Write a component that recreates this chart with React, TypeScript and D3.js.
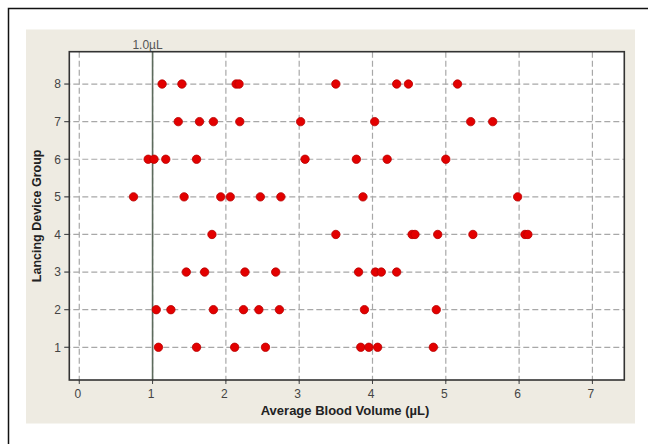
import React from "react";
import * as d3 from "d3";

const groups = [1, 2, 3, 4, 5, 6, 7, 8];
const xTicks = [0, 1, 2, 3, 4, 5, 6, 7];
const g1 = [1.08, 1.6, 2.12, 2.54, 3.84, 3.95, 4.07, 4.83];
const g2 = [1.05, 1.25, 1.83, 2.24, 2.45, 2.73, 3.89, 4.87];
const g3 = [1.46, 1.71, 2.26, 2.68, 3.81, 4.04, 4.12, 4.33];
const g4 = [1.81, 3.5, 4.54, 4.58, 4.89, 5.37, 6.08, 6.12];
const g5 = [0.74, 1.43, 1.93, 2.06, 2.47, 2.75, 3.87, 5.98];
const g6 = [0.94, 1.02, 1.18, 1.6, 3.08, 3.78, 4.2, 5.0];
const g7 = [1.35, 1.64, 1.83, 2.19, 3.02, 4.03, 5.34, 5.64];
const g8 = [1.13, 1.4, 2.14, 2.18, 3.5, 4.33, 4.49, 5.16];
const seriesByGroup = [g1, g2, g3, g4, g5, g6, g7, g8];
const refValue = 1.0;
const refLabel = "1.0\u00b5L";
const xTitle = "Average Blood Volume (\u00b5L)";
const yTitle = "Lancing Device Group";

export default function App() {
  const left = 69.3, right = 624.3, top = 51.7, bottom = 380;
  const x = d3.scaleLinear().domain([-0.136, 7.435]).range([left, right]);
  const y = d3.scaleLinear().domain([0.13, 8.86]).range([bottom, top]);
  const font = "'Liberation Sans', Arial, sans-serif";
  const points = groups.flatMap((g, i) => seriesByGroup[i].map((v) => ({ g, v })));
  return (
    <svg width={648} height={444} style={{ position: "fixed", left: 0, top: 0 }} fontFamily={font}>
      <rect x={0} y={0} width={648} height={444} fill="#fff" />
      <path d="M8.5,444 V8.5 H648" fill="none" stroke="#111" strokeWidth={1.5} />
      <rect x={26} y={29.5} width={609} height={394} fill="#eeebe2" />
      <rect x={left} y={top} width={right - left} height={bottom - top} fill="#fff" />
      {xTicks.map((t) => (
        <line key={"vx" + t} x1={x(t)} x2={x(t)} y1={top} y2={bottom + 4} stroke="#a8a8a8" strokeWidth={1.2} strokeDasharray="6,3" />
      ))}
      {groups.map((g) => (
        <line key={"hy" + g} x1={left - 5} x2={right} y1={y(g)} y2={y(g)} stroke="#a8a8a8" strokeWidth={1.2} strokeDasharray="6,3" />
      ))}
      {xTicks.map((t) => (
        <line key={"tx" + t} x1={x(t)} x2={x(t)} y1={bottom} y2={bottom + 4} stroke="#444" strokeWidth={1} />
      ))}
      {groups.map((g) => (
        <line key={"ty" + g} x1={left - 5} x2={left} y1={y(g)} y2={y(g)} stroke="#444" strokeWidth={1} />
      ))}
      <line x1={x(refValue)} x2={x(refValue)} y1={top} y2={bottom} stroke="#5d6b5d" strokeWidth={1.6} />
      <text x={x(refValue) - 5} y={48.5} fontSize={12} fill="#555" textAnchor="middle">{refLabel}</text>
      {points.map((p, i) => (
        <circle key={i} cx={x(p.v)} cy={y(p.g)} r={4.2} fill="#e30000" stroke="#b80000" strokeWidth={0.8} />
      ))}
      <rect x={left} y={top} width={right - left} height={bottom - top} fill="none" stroke="#333" strokeWidth={1.6} />
      {xTicks.map((t) => (
        <text key={"lx" + t} x={x(t) - 1.5} y={397.5} fontSize={12} fill="#444" textAnchor="middle">{t}</text>
      ))}
      {groups.map((g) => (
        <text key={"ly" + g} x={61} y={y(g) + 4.3} fontSize={12} fill="#444" textAnchor="end">{g}</text>
      ))}
      <text x={345} y={415} fontSize={13} fontWeight="bold" fill="#222" textAnchor="middle">{xTitle}</text>
      <text transform={`translate(41,${(top + bottom) / 2}) rotate(-90)`} fontSize={12.5} fontWeight="bold" fill="#222" textAnchor="middle">{yTitle}</text>
    </svg>
  );
}
